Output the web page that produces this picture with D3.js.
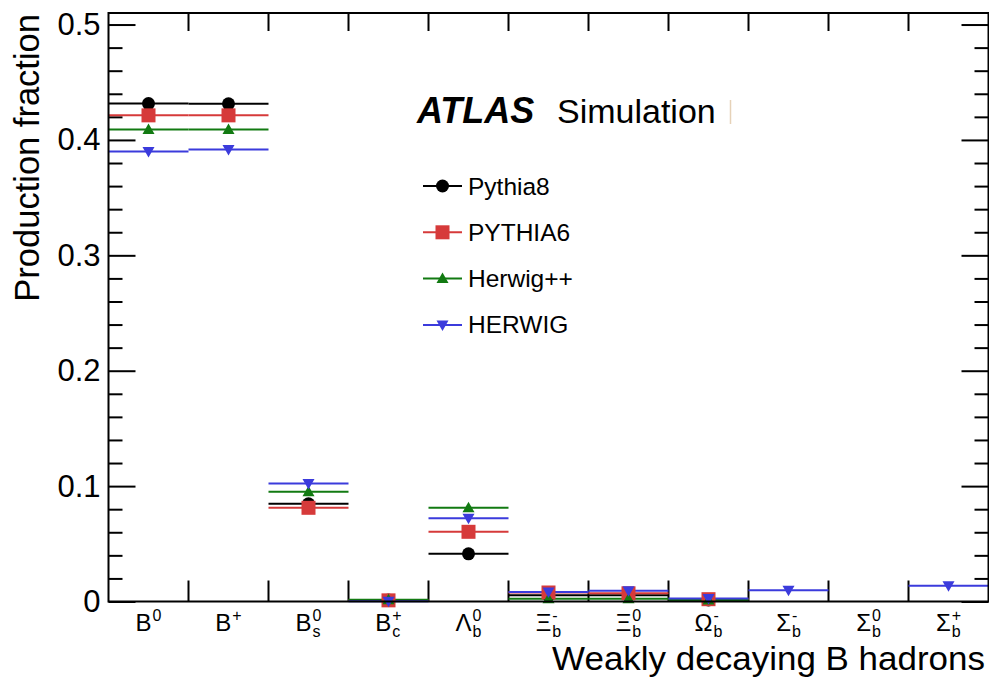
<!DOCTYPE html>
<html>
<head>
<meta charset="utf-8">
<script src="https://cdn.jsdelivr.net/npm/d3@7"></script>
<style>
  html, body { margin: 0; padding: 0; background: #fff; }
  svg { display: block; font-family: "Liberation Sans", Arial, Helvetica, sans-serif; }
</style>
</head>
<body>
<svg id="chart" width="989" height="677"></svg>
<script>
// Weakly decaying b-hadron species: base symbol, superscript (charge), subscript (flavour)
const hadronBase = ["B", "B", "B", "B", "Λ", "Ξ", "Ξ", "Ω", "Σ", "Σ", "Σ"];
const hadronSup  = ["0", "+", "0", "+", "0", "-", "0", "-", "-", "0", "+"];
const hadronSub  = ["",  "",  "s", "c", "b", "b", "b", "b", "b", "b", "b"];

// Production fractions per generator (null = not produced)
const pythia8  = [0.4315, 0.4313, 0.0847, 0.0012, 0.0413, 0.0054, 0.0054, 0.0013, null,   null, null];
const pythia6  = [0.4213, 0.4213, 0.0812, 0.0010, 0.0604, 0.0078, 0.0071, 0.0020, null,   null, null];
const herwigpp = [0.4090, 0.4090, 0.0951, 0.0016, 0.0812, 0.0024, 0.0024, 0.0013, null,   null, null];
const herwig   = [0.3900, 0.3917, 0.1023, 0.0003, 0.0722, 0.0082, 0.0094, 0.0026, 0.0097, null, 0.0137];

const seriesNames = ["Pythia8", "PYTHIA6", "Herwig++", "HERWIG"];
const seriesValues = [pythia8, pythia6, herwigpp, herwig];
const seriesColors = ["#000000", "#d63a3a", "#127a12", "#3b3bdc"];
const seriesMarkers = ["circle", "square", "triangleUp", "triangleDown"];

const yMajorTicks = [0, 0.1, 0.2, 0.3, 0.4, 0.5];
const xTitle = "Weakly decaying B hadrons";
const yTitle = "Production fraction";

const svg = d3.select("#chart");
const plotLeft = 108.5, plotRight = 988.5, plotTop = 13, plotBottom = 601.5;

const x = d3.scaleBand().domain(d3.range(hadronBase.length)).range([plotLeft, plotRight]).padding(0);
const y = d3.scaleLinear().domain([0, 0.51]).range([plotBottom, plotTop]);

// Minor y ticks every 0.02 (left and right, pointing inward)
const minorTicks = d3.range(0, 0.5001, 0.02).filter(v => Math.abs(v * 10 - Math.round(v * 10)) > 1e-6);

const yLeft = svg.append("g").attr("transform", `translate(${plotLeft},0)`)
  .call(d3.axisLeft(y).tickValues(yMajorTicks).tickSize(-27).tickPadding(8)
        .tickFormat(d => d === 0 ? "0" : d3.format(".1f")(d)));
yLeft.select(".domain").remove();
yLeft.selectAll("line").attr("stroke", "#000").attr("stroke-width", 2);
yLeft.selectAll("text").attr("font-size", 31).attr("fill", "#000")
  .attr("font-family", "Liberation Sans, Arial, sans-serif");

const yLeftMinor = svg.append("g").attr("transform", `translate(${plotLeft},0)`)
  .call(d3.axisLeft(y).tickValues(minorTicks).tickSize(-14).tickFormat(""));
yLeftMinor.select(".domain").remove();
yLeftMinor.selectAll("line").attr("stroke", "#000").attr("stroke-width", 2);

const yRight = svg.append("g").attr("transform", `translate(${plotRight},0)`)
  .call(d3.axisRight(y).tickValues(yMajorTicks).tickSize(-27).tickFormat(""));
yRight.select(".domain").remove();
yRight.selectAll("line").attr("stroke", "#000").attr("stroke-width", 2);

const yRightMinor = svg.append("g").attr("transform", `translate(${plotRight},0)`)
  .call(d3.axisRight(y).tickValues(minorTicks).tickSize(-14).tickFormat(""));
yRightMinor.select(".domain").remove();
yRightMinor.selectAll("line").attr("stroke", "#000").attr("stroke-width", 2);

// Bin-edge ticks on bottom and top
const edges = hadronBase.map((_, i) => x(i)).concat([x(hadronBase.length - 1) + x.bandwidth()]);
const innerEdges = edges.slice(1, -1);
svg.append("g").selectAll("line").data(innerEdges).join("line")
  .attr("x1", d => d).attr("x2", d => d).attr("y1", plotBottom).attr("y2", plotBottom - 21)
  .attr("stroke", "#000").attr("stroke-width", 2);
svg.append("g").selectAll("line").data(innerEdges).join("line")
  .attr("x1", d => d).attr("x2", d => d).attr("y1", plotTop).attr("y2", plotTop + 18)
  .attr("stroke", "#000").attr("stroke-width", 2);

// Data: horizontal bin-width lines, then markers
const plot = svg.append("g");
seriesValues.forEach((vals, s) => {
  const pts = vals.map((v, i) => ({ v, i })).filter(d => d.v !== null);
  plot.append("g").selectAll("line").data(pts).join("line")
    .attr("x1", d => x(d.i)).attr("x2", d => x(d.i) + x.bandwidth())
    .attr("y1", d => y(d.v)).attr("y2", d => y(d.v))
    .attr("stroke", seriesColors[s]).attr("stroke-width", 2);
});

function drawMarker(g, kind, cx, cy, color) {
  if (kind === "circle") {
    g.append("circle").attr("cx", cx).attr("cy", cy).attr("r", 6.5).attr("fill", color);
  } else if (kind === "square") {
    g.append("rect").attr("x", cx - 7).attr("y", cy - 7).attr("width", 14).attr("height", 14).attr("fill", color);
  } else if (kind === "triangleUp") {
    g.append("path").attr("d", `M${cx - 6},${cy + 4.5}L${cx + 6},${cy + 4.5}L${cx},${cy - 6}Z`).attr("fill", color);
  } else {
    g.append("path").attr("d", `M${cx - 6},${cy - 4.5}L${cx + 6},${cy - 4.5}L${cx},${cy + 6}Z`).attr("fill", color);
  }
}

seriesValues.forEach((vals, s) => {
  const g = plot.append("g");
  vals.forEach((v, i) => {
    if (v === null) return;
    drawMarker(g, seriesMarkers[s], x(i) + x.bandwidth() / 2, y(v), seriesColors[s]);
  });
});

// Frame
svg.append("rect").attr("x", plotLeft).attr("y", plotTop)
  .attr("width", plotRight - plotLeft).attr("height", plotBottom - plotTop)
  .attr("fill", "none").attr("stroke", "#000").attr("stroke-width", 2);

// Category labels: one text each, superscript and subscript stacked after the symbol
const labelG = svg.append("g");
const baseSize = 24, scriptSize = 16;
hadronBase.forEach((b, i) => {
  const cx = x(i) + x.bandwidth() / 2;
  const t = labelG.append("text").attr("y", 631).attr("fill", "#000");
  const base = t.append("tspan").attr("font-size", baseSize).text(b);
  const sup = t.append("tspan").attr("font-size", scriptSize).attr("dx", 1).attr("dy", -10).text(hadronSup[i]);
  const bw = base.node().getComputedTextLength();
  const supW = sup.node().getComputedTextLength();
  let subW = 0;
  if (hadronSub[i]) {
    const sub = t.append("tspan").attr("font-size", scriptSize).attr("dx", -supW).attr("dy", 16).text(hadronSub[i]);
    subW = sub.node().getComputedTextLength();
  }
  const total = bw + 1 + Math.max(supW, subW);
  t.attr("x", cx - total / 2);
});

// Axis titles
svg.append("text").attr("transform", "translate(985,670) scale(1.06,1)").attr("text-anchor", "end")
  .attr("font-size", 33).attr("fill", "#000").text(xTitle);
svg.append("text").attr("transform", "translate(39,14) rotate(-90)").attr("text-anchor", "end")
  .attr("font-size", 34.5).attr("fill", "#000").text(yTitle);

// ATLAS label
svg.append("text").attr("x", 417).attr("y", 123).attr("font-size", 36)
  .attr("font-weight", "bold").attr("font-style", "italic").attr("fill", "#000").text("ATLAS");
svg.append("text").attr("x", 557).attr("y", 123).attr("font-size", 34).attr("fill", "#000").text("Simulation");
svg.append("line").attr("x1", 730.5).attr("x2", 730.5).attr("y1", 100).attr("y2", 124)
  .attr("stroke", "#e6d2b8").attr("stroke-width", 1.5);

// Legend
const legend = svg.append("g");
seriesNames.forEach((name, s) => {
  const cy = 186 + s * 46.3;
  const g = legend.append("g");
  g.append("line").attr("x1", 423).attr("x2", 462).attr("y1", cy).attr("y2", cy)
    .attr("stroke", seriesColors[s]).attr("stroke-width", 2);
  drawMarker(g, seriesMarkers[s], 442.5, cy, seriesColors[s]);
  g.append("text").attr("x", 468).attr("y", cy + 8.5).attr("font-size", 24.5).attr("fill", "#000").text(name);
});
</script>
</body>
</html>
